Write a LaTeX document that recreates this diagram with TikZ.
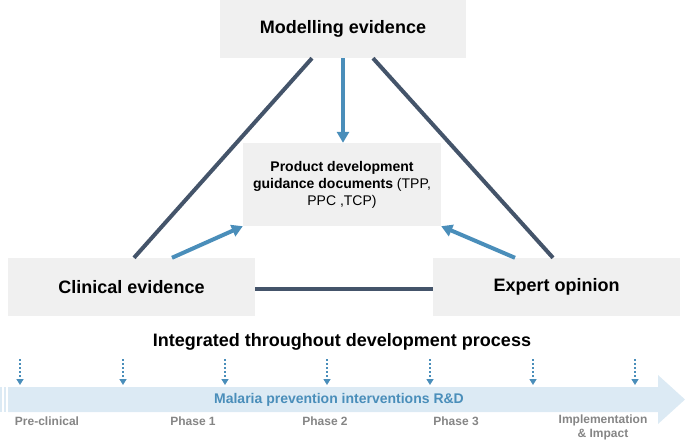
\documentclass[tikz,border=0pt]{standalone}
\usepackage{fontspec}
\setmainfont{Liberation Sans}
\usetikzlibrary{arrows.meta}
\definecolor{boxgray}{HTML}{F0F0F0}
\definecolor{darkline}{HTML}{44546A}
\definecolor{bluearr}{HTML}{4A8EBA}
\definecolor{bandblue}{HTML}{DCEAF4}
\definecolor{labgray}{HTML}{858585}
\begin{document}
\begin{tikzpicture}[x=1pt,y=-1pt,
  evbox/.style={fill=boxgray,draw=none,minimum width=247pt,minimum height=58pt,inner sep=0pt,font=\fontsize{18}{21}\selectfont\bfseries},
  darkconn/.style={draw=darkline,line width=4pt},
  blueconn/.style={draw=bluearr,line width=4pt,-{Triangle[length=11pt,width=12pt]}},
  dotarr/.style={draw=bluearr,line width=2pt,dash pattern=on 2pt off 2pt,-{Triangle[length=6pt,width=7pt]}},
  phaselab/.style={text=labgray,font=\fontsize{12}{14}\selectfont\bfseries,align=center},
]
\useasboundingbox (0,0) rectangle (685,443);
% boxes
\node[evbox,minimum width=246pt] (model) at (343,29) {Modelling evidence};
\node[evbox] (clin) at (131.5,287) {Clinical evidence};
\node[evbox] (expert) at (556.5,287) {Expert opinion};
\node[fill=boxgray,minimum width=198pt,minimum height=83pt,inner sep=0pt,align=center,
  font=\fontsize{14}{17}\selectfont] (pdgd) at (342,184.5)
  {\textbf{Product development}\\\textbf{guidance documents} (TPP,\\PPC ,TCP)};
% connectors
\draw[darkconn] ([xshift=2.5pt]clin.north) -- ([xshift=-31pt]model.south);
\draw[darkconn] ([xshift=-3.5pt]expert.north) -- ([xshift=30pt]model.south);
\draw[darkconn] ([yshift=-2pt]clin.east) -- ([yshift=-2pt]expert.west);
\draw[blueconn] (model.south) -- (model.south |- pdgd.north);
\draw[blueconn] ([xshift=40.5pt]clin.north) -- (pdgd.south west);
\draw[blueconn] ([xshift=-41.5pt]expert.north) -- (pdgd.south east);
% title
\node[font=\fontsize{18}{21}\selectfont\bfseries] (integ) at (342,342) {Integrated throughout development process};
% timeline band
\fill[bandblue] (8,387) -- (658,387) -- (658,375) -- (685,399.5) -- (658,424) -- (658,412) -- (8,412) -- cycle;
\fill[bandblue] (0,387) rectangle (2.2,412);
\fill[bandblue] (3.6,387) rectangle (6.4,412);
\node[text=bluearr,font=\fontsize{14}{17}\selectfont\bfseries] (band) at (339,400) {Malaria prevention interventions R\&D};
% dotted arrows
\foreach \i/\x in {1/20,2/123,3/225,4/327,5/430,6/533,7/635}{
  \coordinate (dtop\i) at (\x,359);
  \coordinate (dbot\i) at (\x,385);
  \draw[dotarr] (dtop\i) -- (dbot\i);
}
% phase labels
\node[phaselab] (pre) at (47,421) {Pre-clinical};
\node[phaselab] (p1) at (193,421) {Phase 1};
\node[phaselab] (p2) at (325,421) {Phase 2};
\node[phaselab] (p3) at (456,421) {Phase 3};
\node[phaselab,anchor=north,inner sep=0pt] (impl) at (603,415) {Implementation\\\& Impact};
\end{tikzpicture}
\end{document}
